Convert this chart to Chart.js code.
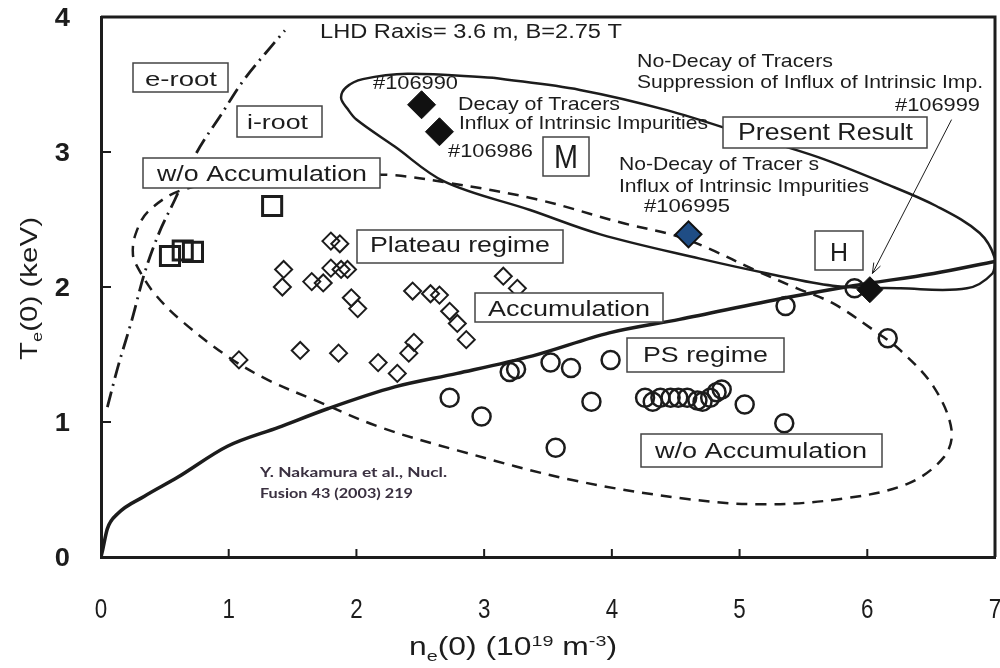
<!DOCTYPE html>
<html>
<head>
<meta charset="utf-8">
<script src="https://cdn.jsdelivr.net/npm/chart.js@4"></script>
<style>
html, body { margin: 0; padding: 0; background: #fff; }
</style>
</head>
<body>
<canvas id="chart" width="1000" height="668"></canvas>
<script>
// axis ranges
const nRange = [0, 7];
const tRange = [0, 4];

// open squares (e/i-root region)
const squareN = [0.54, 0.64, 0.72, 1.34];
const squareT = [2.23, 2.27, 2.26, 2.60];

// open diamonds (plateau regime)
const plateauN = [1.08, 1.42, 1.43, 1.56, 1.65, 1.74, 1.80, 1.80, 1.86, 1.87, 1.88, 1.93, 1.96, 2.01, 2.17, 2.32, 2.41, 2.44, 2.45, 2.58, 2.65, 2.73, 2.79, 2.86, 3.15, 3.26];
const plateauT = [1.46, 2.00, 2.13, 1.53, 2.04, 2.03, 2.34, 2.14, 1.51, 2.32, 2.13, 2.13, 1.92, 1.84, 1.44, 1.36, 1.51, 1.97, 1.59, 1.95, 1.94, 1.82, 1.73, 1.61, 2.08, 1.99];

// open circles (PS regime)
const psN = [2.73, 2.98, 3.20, 3.25, 3.52, 3.56, 3.68, 3.84, 3.99, 4.26, 4.32, 4.38, 4.46, 4.52, 4.59, 4.67, 4.71, 4.77, 4.82, 4.86, 5.04, 5.35, 5.36, 5.90, 6.16];
const psT = [1.18, 1.04, 1.37, 1.39, 1.44, 0.81, 1.40, 1.15, 1.46, 1.18, 1.15, 1.18, 1.18, 1.18, 1.18, 1.16, 1.15, 1.18, 1.22, 1.24, 1.13, 0.99, 1.86, 1.99, 1.62];

// present result shots
const decayN = [2.51, 2.65];       // #106990, #106986
const decayT = [3.35, 3.15];
const noDecayN = [4.60];           // #106995
const noDecayT = [2.39];
const suppN = [6.02];              // #106999
const suppT = [1.98];

// accumulation boundary (solid)
const boundN = [0, 0.01, 0.05, 0.13, 0.34, 0.60, 0.99, 1.39, 1.78, 2.30, 2.79, 3.38, 3.98, 4.53, 5.36, 5.89, 6.52, 7.0];
const boundT = [0, 0.04, 0.21, 0.32, 0.45, 0.59, 0.82, 0.96, 1.10, 1.26, 1.36, 1.49, 1.66, 1.76, 1.92, 2.01, 2.10, 2.19];

// e-root / i-root boundary (dash-dot)
const rootN = [0.05, 0.13, 0.24, 0.34, 0.45, 0.58, 0.74, 0.95, 1.10, 1.34, 1.44];
const rootT = [1.11, 1.40, 1.75, 2.10, 2.39, 2.65, 2.98, 3.29, 3.51, 3.79, 3.90];

// w/o accumulation contour (dashed, closed)
const noAccN = [1.71, 2.26, 2.73, 3.41, 4.10, 4.50, 4.77, 5.11, 5.45, 5.73, 6.05, 6.26, 6.52, 6.66, 6.60, 6.31, 5.79, 5.18, 4.59, 3.69, 2.79, 2.19, 1.68, 1.31, 1.00, 0.63, 0.42, 0.29, 0.25, 0.27, 0.37, 0.64, 1.17, 1.71];
const noAccT = [2.83, 2.83, 2.77, 2.65, 2.47, 2.38, 2.28, 2.13, 1.99, 1.88, 1.68, 1.53, 1.26, 0.94, 0.74, 0.54, 0.43, 0.39, 0.43, 0.57, 0.79, 0.96, 1.16, 1.31, 1.48, 1.75, 1.95, 2.14, 2.24, 2.39, 2.56, 2.72, 2.79, 2.83];

// present result contour (solid, closed)
const presentN = [3.07, 3.75, 4.43, 5.11, 5.62, 6.13, 6.54, 6.88, 7.0, 6.98, 6.78, 6.26, 5.73, 5.22, 4.69, 3.91, 3.36, 2.69, 2.30, 2.00, 1.93, 1.88, 1.92, 2.05, 2.40, 3.07];
const presentT = [3.55, 3.46, 3.31, 3.11, 2.96, 2.77, 2.60, 2.40, 2.21, 2.10, 1.99, 1.99, 2.01, 2.10, 2.21, 2.39, 2.57, 2.78, 3.04, 3.24, 3.32, 3.40, 3.48, 3.54, 3.58, 3.55];

const zip = (xs, ys) => xs.map((x, i) => ({ x: x, y: ys[i] }));

const INK = "#1c1c1c";
const SANS = "'Liberation Sans', Arial, sans-serif";

// text squeezed/stretched horizontally by factor sx
function squeezeText(ctx, text, x, y, sx, font, align) {
    ctx.font = font;
    ctx.save();
    ctx.translate(x, y);
    ctx.scale(sx, 1);
    ctx.textAlign = align || "left";
    ctx.textBaseline = "alphabetic";
    ctx.fillText(text, 0, 0);
    ctx.restore();
}

// text fitted to a given width (left edge x, baseline y)
function fitText(ctx, text, x, y, w, font) {
    ctx.font = font;
    const nat = ctx.measureText(text).width;
    squeezeText(ctx, text, x, y, w / nat, font, "left");
}

// text with sub/superscripts, fitted to width w
function richText(ctx, parts, x, y, w, size, family) {
    let total = 0;
    const widths = parts.map(p => {
        ctx.font = (p.k ? size * 0.62 : size) + "px " + family;
        const m = ctx.measureText(p.t).width;
        total += m;
        return m;
    });
    ctx.save();
    ctx.translate(x, y);
    ctx.scale(w / total, 1);
    ctx.textAlign = "left";
    ctx.textBaseline = "alphabetic";
    let cx = 0;
    parts.forEach((p, i) => {
        ctx.font = (p.k ? size * 0.62 : size) + "px " + family;
        const dy = p.k === "sub" ? size * 0.22 : p.k === "sup" ? -size * 0.38 : 0;
        ctx.fillText(p.t, cx, dy);
        cx += widths[i];
    });
    ctx.restore();
}

// plain notes: left x, width, cap centre y, font size
const notes = [
    { t: "LHD Raxis= 3.6 m, B=2.75 T", x: 320, w: 302, cy: 31, s: 20 },
    { t: "No-Decay of Tracers", x: 637, w: 196, cy: 60, s: 18.5 },
    { t: "Suppression of Influx of Intrinsic Imp.", x: 637, w: 346, cy: 81, s: 18.5 },
    { t: "#106999", x: 895, w: 85, cy: 104, s: 19 },
    { t: "#106990", x: 373, w: 85, cy: 82, s: 19 },
    { t: "Decay of Tracers", x: 458, w: 162, cy: 103, s: 18.5 },
    { t: "Influx of Intrinsic Impurities", x: 459, w: 249, cy: 122, s: 18.5 },
    { t: "#106986", x: 448, w: 85, cy: 150, s: 19 },
    { t: "No-Decay of Tracer s", x: 619, w: 200, cy: 163, s: 18.5 },
    { t: "Influx of Intrinsic Impurities", x: 619, w: 250, cy: 185, s: 18.5 },
    { t: "#106995", x: 644, w: 86, cy: 205, s: 19 }
];

// boxed labels: box corners, text left/width, cap centre y, font size
const boxes = [
    { t: "e-root", b: [133, 63, 228, 92], x: 145, w: 72, cy: 78, s: 21 },
    { t: "i-root", b: [237, 106, 322, 137], x: 247, w: 61, cy: 121, s: 21 },
    { t: "w/o Accumulation", b: [143, 158, 380, 188], x: 157, w: 210, cy: 173, s: 22 },
    { t: "Plateau regime", b: [357, 230, 563, 263], x: 370, w: 180, cy: 244, s: 22 },
    { t: "Accumulation", b: [475, 293, 663, 322], x: 488, w: 162, cy: 308, s: 22 },
    { t: "PS regime", b: [627, 338, 784, 372], x: 643, w: 125, cy: 354, s: 22 },
    { t: "w/o Accumulation", b: [641, 434, 882, 467], x: 655, w: 212, cy: 450, s: 22 },
    { t: "M", b: [543, 137, 589, 176], x: 554, w: 24, cy: 156, s: 33 },
    { t: "Present Result", b: [723, 117, 927, 148], x: 738, w: 175, cy: 131, s: 24 },
    { t: "H", b: [815, 231, 863, 270], x: 830, w: 18, cy: 252, s: 26 }
];

const decorations = {
    id: "decorations",
    afterDatasetsDraw(chart) {
        const ctx = chart.ctx;
        const a = chart.chartArea;
        const xs = chart.scales.x;
        const ys = chart.scales.y;
        ctx.save();
        ctx.fillStyle = INK;
        ctx.strokeStyle = INK;

        // frame top/right and inward ticks
        ctx.lineWidth = 3;
        ctx.beginPath();
        ctx.moveTo(a.left, a.top);
        ctx.lineTo(a.right, a.top);
        ctx.lineTo(a.right, a.bottom);
        ctx.stroke();
        ctx.lineWidth = 2;
        ctx.beginPath();
        xs.ticks.forEach(t => {
            if (t.value <= nRange[0] || t.value >= nRange[1]) return;
            const px = xs.getPixelForValue(t.value);
            ctx.moveTo(px, a.bottom);
            ctx.lineTo(px, a.bottom - 8);
        });
        ys.ticks.forEach(t => {
            if (t.value <= tRange[0] || t.value >= tRange[1]) return;
            const py = ys.getPixelForValue(t.value);
            ctx.moveTo(a.left, py);
            ctx.lineTo(a.left + 10, py);
        });
        ctx.stroke();

        // tick labels
        xs.ticks.forEach(t => {
            squeezeText(ctx, String(t.value), xs.getPixelForValue(t.value), a.bottom + 61, 0.8, "28px " + SANS, "center");
        });
        ys.ticks.forEach(t => {
            squeezeText(ctx, String(t.value), a.left - 31, ys.getPixelForValue(t.value) + 9, 1.05, "bold 26px " + SANS, "right");
        });

        // arrow to #106999
        const x0 = xs.getPixelForValue(6.66), y0 = ys.getPixelForValue(3.24);
        const x1 = xs.getPixelForValue(6.04), y1 = ys.getPixelForValue(2.10);
        ctx.lineWidth = 1;
        ctx.beginPath();
        ctx.moveTo(x0, y0);
        ctx.lineTo(x1, y1);
        const ang = Math.atan2(y1 - y0, x1 - x0);
        [-0.35, 0.35].forEach(d => {
            ctx.moveTo(x1, y1);
            ctx.lineTo(x1 - 11 * Math.cos(ang + d), y1 - 11 * Math.sin(ang + d));
        });
        ctx.stroke();

        // boxed labels
        boxes.forEach(b => {
            ctx.fillStyle = "#fff";
            ctx.fillRect(b.b[0], b.b[1], b.b[2] - b.b[0], b.b[3] - b.b[1]);
            ctx.lineWidth = 1.5;
            ctx.strokeStyle = "#444";
            ctx.strokeRect(b.b[0], b.b[1], b.b[2] - b.b[0], b.b[3] - b.b[1]);
            ctx.fillStyle = INK;
            fitText(ctx, b.t, b.x, b.cy + 0.358 * b.s, b.w, b.s + "px " + SANS);
        });

        // free notes
        ctx.fillStyle = INK;
        notes.forEach(n => fitText(ctx, n.t, n.x, n.cy + 0.358 * n.s, n.w, n.s + "px " + SANS));

        // citation
        ctx.fillStyle = "#3a3040";
        fitText(ctx, "Y. Nakamura et al., Nucl.", 260, 477, 187, "bold 14px Lato, " + SANS);
        fitText(ctx, "Fusion 43 (2003) 219", 260, 498, 153, "bold 14px Lato, " + SANS);

        // axis titles
        ctx.fillStyle = INK;
        richText(ctx, [
            { t: "n" }, { t: "e", k: "sub" }, { t: "(0) (10" }, { t: "19", k: "sup" },
            { t: " m" }, { t: "-3", k: "sup" }, { t: ")" }
        ], 409, 655, 208, 25, SANS);
        ctx.save();
        ctx.translate(37, 360);
        ctx.rotate(-Math.PI / 2);
        richText(ctx, [{ t: "T" }, { t: "e", k: "sub" }, { t: "(0) (keV)" }], 0, 0, 143, 24, SANS);
        ctx.restore();

        ctx.restore();
    }
};

const curve = (n, t, dash, width, extra) => Object.assign({
    type: "line",
    data: zip(n, t),
    borderColor: INK,
    borderWidth: width,
    borderDash: dash,
    pointRadius: 0,
    fill: false
}, extra || {});

new Chart(document.getElementById("chart").getContext("2d"), {
    type: "scatter",
    data: {
        datasets: [
            { data: zip(suppN, suppT), pointStyle: "rectRot", pointRadius: 13, backgroundColor: "#111", borderColor: "#111", borderWidth: 1 },
            { data: zip(noDecayN, noDecayT), pointStyle: "rectRot", pointRadius: 13, backgroundColor: "#1f4d85", borderColor: "#111", borderWidth: 2 },
            { data: zip(decayN, decayT), pointStyle: "rectRot", pointRadius: 14, backgroundColor: "#111", borderColor: "#111", borderWidth: 1 },
            { data: zip(squareN, squareT), pointStyle: "rect", pointRadius: 13.5, backgroundColor: "rgba(0,0,0,0)", borderColor: INK, borderWidth: 3 },
            { data: zip(plateauN, plateauT), pointStyle: "rectRot", pointRadius: 8.5, backgroundColor: "rgba(0,0,0,0)", borderColor: INK, borderWidth: 2 },
            { data: zip(psN, psT), pointStyle: "circle", pointRadius: 9, backgroundColor: "rgba(0,0,0,0)", borderColor: INK, borderWidth: 2.5 },
            curve(boundN, boundT, [], 3.5, { cubicInterpolationMode: "monotone" }),
            curve(rootN, rootT, [16, 6, 2, 6], 2.8, { cubicInterpolationMode: "monotone" }),
            curve(noAccN, noAccT, [11, 8], 2.5, { tension: 0.35 }),
            curve(presentN, presentT, [], 2.5, { tension: 0.35 })
        ]
    },
    options: {
        responsive: false,
        animation: false,
        events: [],
        layout: { autoPadding: false, padding: { left: 0, right: 5, top: 17, bottom: 0 } },
        plugins: { legend: { display: false }, tooltip: { enabled: false } },
        scales: {
            x: {
                type: "linear",
                min: nRange[0], max: nRange[1],
                grid: { display: false, drawTicks: false },
                border: { display: true, width: 3, color: INK },
                ticks: { stepSize: 1, display: false },
                afterFit: s => { s.height = 111; }
            },
            y: {
                type: "linear",
                min: tRange[0], max: tRange[1],
                grid: { display: false, drawTicks: false },
                border: { display: true, width: 3, color: INK },
                ticks: { stepSize: 1, display: false },
                afterFit: s => { s.width = 101; }
            }
        }
    },
    plugins: [decorations]
});
</script>
</body>
</html>
